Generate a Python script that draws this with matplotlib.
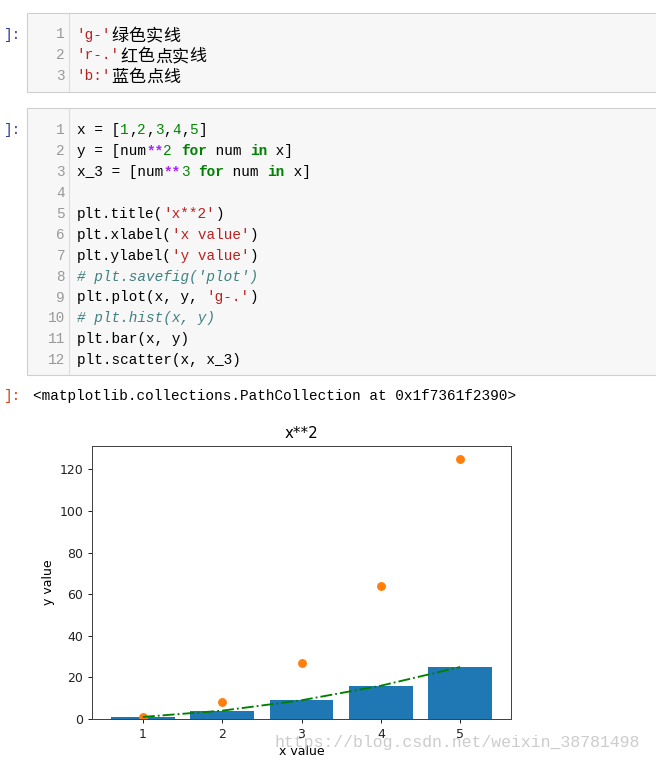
import matplotlib
matplotlib.use("Agg")
import matplotlib.pyplot as plt
from matplotlib.patches import Rectangle
from matplotlib.lines import Line2D

W, H = 656, 761
DPI = 100

# chart data
x = [1, 2, 3, 4, 5]
y = [1, 4, 9, 16, 25]
x_3 = [1, 8, 27, 64, 125]
x_ticks = [1, 2, 3, 4, 5]
y_ticks = [0, 20, 40, 60, 80, 100, 120]

MONO = 'Liberation Mono'
CJK = 'Noto Sans CJK SC'
CHAR_W = 8.67
FS = 10.4

STYLES = {
    't': dict(color='#000000'),
    'k': dict(color='#008000', fontweight='bold'),
    'n': dict(color='#008800'),
    'o': dict(color='#AA22FF', fontweight='bold'),
    's': dict(color='#BA2121'),
    'c': dict(color='#408080', fontstyle='italic'),
}

cell1 = [
    [("'g-'", 's'), ('绿色实线', 'cjk')],
    [("'r-.'", 's'), ('红色点实线', 'cjk')],
    [("'b:'", 's'), ('蓝色点线', 'cjk')],
]

cell2 = [
    [('x = [', 't'), ('1', 'n'), (',', 't'), ('2', 'n'), (',', 't'), ('3', 'n'),
     (',', 't'), ('4', 'n'), (',', 't'), ('5', 'n'), (']', 't')],
    [('y = [num', 't'), ('**', 'o'), ('2', 'n'), (' ', 't'), ('for', 'k'),
     (' num ', 't'), ('in', 'k'), (' x]', 't')],
    [('x_3 = [num', 't'), ('**', 'o'), ('3', 'n'), (' ', 't'), ('for', 'k'),
     (' num ', 't'), ('in', 'k'), (' x]', 't')],
    [],
    [('plt.title(', 't'), ("'x**2'", 's'), (')', 't')],
    [('plt.xlabel(', 't'), ("'x value'", 's'), (')', 't')],
    [('plt.ylabel(', 't'), ("'y value'", 's'), (')', 't')],
    [("# plt.savefig('plot')", 'c')],
    [('plt.plot(x, y, ', 't'), ("'g-.'", 's'), (')', 't')],
    [('# plt.hist(x, y)', 'c')],
    [('plt.bar(x, y)', 't')],
    [('plt.scatter(x, x_3)', 't')],
]

out_text = '<matplotlib.collections.PathCollection at 0x1f7361f2390>'
watermark = 'https://blog.csdn.net/weixin_38781498'


def fx(px):
    return px / W


def fy(py):
    return 1 - py / H


fig = plt.figure(figsize=(W / DPI, H / DPI), dpi=DPI)
fig.patch.set_facecolor('white')


def draw_cell(top, bottom, lines, base0, step=20.9):
    fig.patches.append(Rectangle((fx(27), fy(bottom)), fx(700) - fx(27), fy(top) - fy(bottom),
                                 transform=fig.transFigure, facecolor='#f7f7f7',
                                 edgecolor='#cfcfcf', lw=0.8))
    fig.lines.append(Line2D([fx(69), fx(69)], [fy(top + 1), fy(bottom - 1)],
                            transform=fig.transFigure, color='#dddddd', lw=0.8))
    x0 = 76.7
    for i, line in enumerate(lines):
        base = base0 + i * step
        fig.text(fx(65), fy(base), str(i + 1), ha='right', va='baseline',
                 family=MONO, fontsize=FS, color='#999999')
        col = 0
        for txt, sty in line:
            if sty == 'cjk':
                # full-width characters take two columns
                for ch in txt:
                    fig.text(fx(x0 + (col + 1) * CHAR_W), fy(base + 2), ch, ha='center',
                             va='baseline', family=CJK, fontsize=12.3, color='#000000')
                    col += 2
            else:
                fig.text(fx(x0 + col * CHAR_W), fy(base), txt, ha='left', va='baseline',
                         family=MONO, fontsize=FS, **STYLES[sty])
                col += len(txt)


# notebook cells
fig.text(fx(3), fy(38.5), ']:', family=MONO, fontsize=FS, color='#303F9F', va='baseline')
draw_cell(13, 92, cell1, 38.5)
fig.text(fx(3), fy(134.3), ']:', family=MONO, fontsize=FS, color='#303F9F', va='baseline')
draw_cell(108, 375, cell2, 134.3)
fig.text(fx(3), fy(400), ']:', family=MONO, fontsize=FS, color='#D84315', va='baseline')
fig.text(fx(33), fy(400), out_text, family=MONO, fontsize=FS, color='#000000', va='baseline')

# chart
ax = fig.add_axes([fx(92), fy(719), fx(511) - fx(92), fy(446) - fy(719)])
ax.set_title('x**2', fontsize=10.8, pad=5.4)
ax.set_xlabel('x value', fontsize=9, labelpad=3)
ax.set_ylabel('y value', fontsize=9, labelpad=3)
ax.plot(x, y, 'g-.', lw=1.35)
ax.bar(x, y)
ax.scatter(x, x_3, s=29)
ax.set_xticks(x_ticks)
ax.set_yticks(y_ticks)
ax.tick_params(labelsize=9, length=3.15, width=0.72, pad=3.0, colors='#222222')
for sp in ax.spines.values():
    sp.set_linewidth(0.72)
    sp.set_color('#444444')

fig.text(fx(275), fy(747), watermark, family=MONO, fontsize=11.9, color='#cccccc',
         va='baseline', zorder=10)

fig.savefig('out.png', dpi=DPI)
